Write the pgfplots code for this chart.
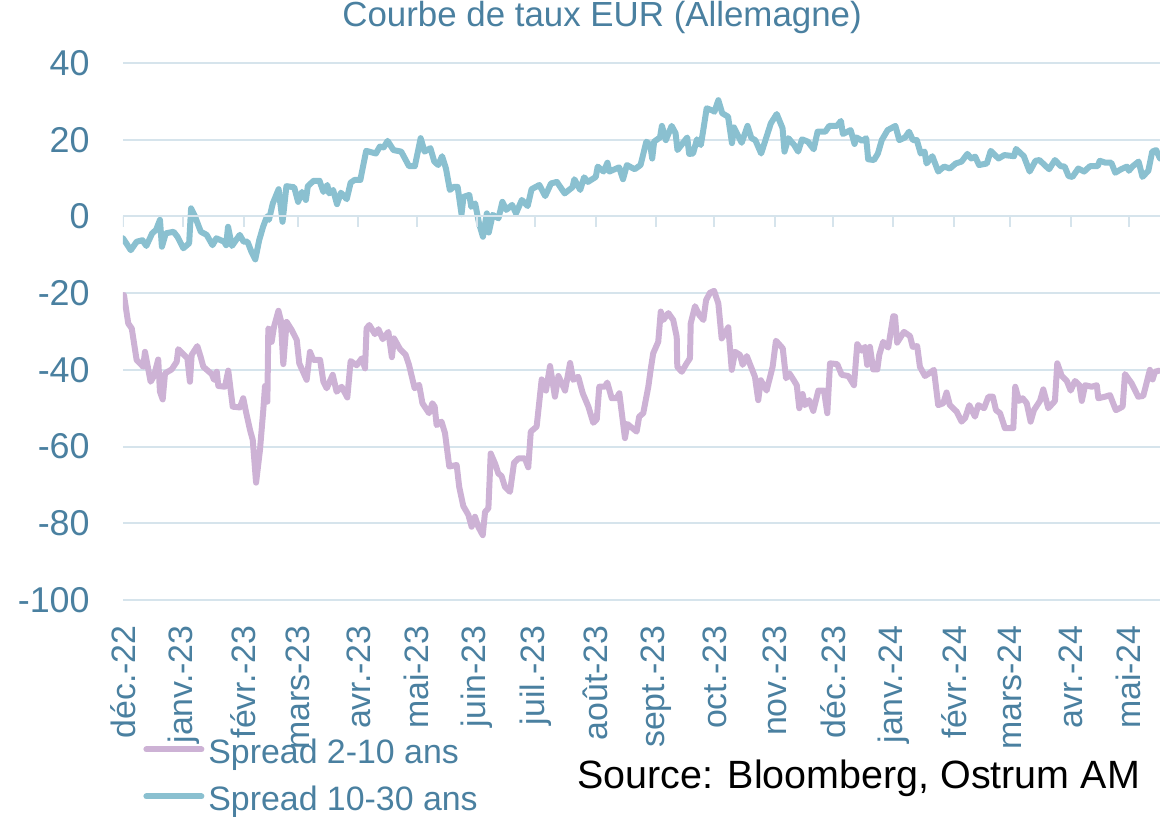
\documentclass[border=0pt]{standalone}
\usepackage{fontspec}
\setmainfont{Liberation Sans}
\usepackage{pgfplots}
\usepackage{pgfplotstable}
\pgfplotsset{compat=1.18}

\definecolor{txt}{HTML}{4A80A0}
\definecolor{tealline}{HTML}{8AC0D0}
\definecolor{lilac}{HTML}{CDB2D5}
\definecolor{gridc}{HTML}{D6E4EC}

% x = days since 1 Dec 2022, y = spread (bp)
\pgfplotstableread{
d v
0.5 -20.5
2.7 -27.9
4.5 -29.2
7.0 -37.4
10.4 -39.2
11.3 -35.3
14.2 -43.1
15.9 -41.6
18.1 -37.3
19.0 -45.7
20.4 -47.7
21.6 -40.9
25.0 -39.9
27.6 -37.9
28.4 -34.6
31.9 -36.4
33.1 -37.0
34.4 -43.1
35.3 -36.1
38.2 -33.8
39.9 -36.6
41.3 -39.2
45.6 -41.1
46.8 -42.6
48.2 -40.5
49.0 -44.2
52.4 -44.4
54.1 -40.2
56.4 -49.6
60.1 -49.8
61.8 -47.4
63.2 -50.9
65.3 -55.7
66.7 -58.3
68.4 -69.4
70.4 -60.9
72.1 -50.5
73.0 -44.2
74.2 -48.3
74.7 -29.2
75.6 -29.6
76.4 -32.7
77.6 -28.8
79.9 -24.6
81.1 -27.0
82.4 -38.5
84.1 -27.5
86.7 -29.6
89.3 -32.2
90.6 -38.3
94.4 -42.6
96.1 -35.3
97.8 -37.4
101.3 -37.4
103.0 -43.1
104.7 -44.8
107.8 -41.3
109.8 -45.7
112.4 -44.4
115.3 -47.2
117.0 -37.7
120.1 -38.8
122.7 -37.0
124.4 -39.6
125.2 -29.2
126.6 -28.3
129.5 -30.7
131.3 -29.4
133.5 -32.0
136.4 -30.1
138.2 -36.7
139.3 -31.8
142.4 -34.6
145.3 -36.1
147.0 -38.7
149.9 -44.8
152.2 -43.9
153.9 -48.7
157.3 -51.3
159.0 -48.7
160.2 -49.6
161.2 -54.4
163.7 -53.5
165.5 -56.5
167.7 -65.2
171.5 -64.8
172.8 -70.5
174.9 -75.5
177.5 -77.8
179.2 -80.9
180.9 -78.3
182.6 -80.9
184.9 -83.1
186.1 -77.0
187.8 -76.1
189.0 -61.8
191.2 -64.4
192.9 -67.0
194.6 -67.7
196.3 -70.5
198.9 -71.8
201.0 -64.2
203.2 -63.1
206.6 -63.1
208.3 -65.4
209.6 -56.1
212.6 -54.8
215.2 -42.5
217.4 -45.4
219.5 -39.0
222.0 -47.0
223.8 -41.6
227.2 -45.4
229.8 -38.2
231.4 -42.6
234.0 -41.8
236.3 -46.1
239.2 -49.6
241.7 -53.8
243.5 -52.9
244.8 -44.4
247.7 -44.4
248.9 -43.3
251.2 -47.4
253.7 -47.4
255.1 -46.1
258.0 -57.8
259.2 -54.1
264.0 -56.1
265.3 -52.2
267.4 -51.3
270.0 -44.4
271.2 -40.0
272.5 -35.7
275.1 -32.7
276.4 -24.8
277.7 -27.0
280.3 -25.2
282.8 -27.0
284.6 -31.4
284.9 -39.2
287.2 -40.5
289.7 -38.3
291.4 -37.0
291.8 -27.9
294.0 -23.4
296.2 -25.7
298.3 -27.0
299.7 -21.8
301.7 -19.9
303.8 -19.4
306.0 -22.7
307.7 -31.8
308.9 -30.9
311.1 -28.9
312.9 -40.0
314.6 -35.3
317.1 -36.1
318.5 -38.7
320.6 -36.4
323.1 -39.6
324.8 -41.8
326.5 -47.9
327.8 -42.7
330.8 -45.4
333.9 -39.2
335.6 -32.4
339.1 -34.4
340.8 -42.2
342.5 -40.9
344.5 -42.5
346.3 -44.0
347.6 -50.0
349.3 -46.3
350.5 -49.2
352.7 -47.9
354.8 -50.7
357.4 -45.4
360.3 -45.4
362.0 -51.3
363.4 -38.3
367.1 -38.5
369.4 -41.3
372.8 -41.6
375.7 -44.0
377.4 -33.3
379.7 -35.0
381.4 -34.0
382.5 -38.7
383.9 -34.0
385.6 -39.9
387.7 -39.9
388.7 -36.1
390.7 -32.7
393.3 -34.2
395.9 -26.0
396.8 -26.1
397.9 -32.9
401.4 -30.1
404.5 -31.2
405.9 -34.0
408.2 -33.8
409.6 -39.2
412.2 -41.6
414.4 -40.9
416.8 -40.0
419.0 -49.2
421.6 -48.7
423.3 -45.9
425.0 -49.2
428.5 -50.9
431.0 -53.5
432.8 -52.6
435.0 -49.2
437.9 -52.2
439.6 -49.2
442.6 -50.0
444.8 -47.0
447.1 -47.0
448.7 -50.5
450.8 -51.3
453.3 -55.2
457.6 -55.2
458.6 -44.4
460.6 -48.1
462.4 -47.4
464.5 -48.7
466.5 -53.5
468.2 -50.5
471.3 -48.1
473.0 -45.1
475.6 -50.0
479.0 -48.1
480.2 -38.3
482.5 -41.6
485.1 -42.9
487.1 -45.4
489.3 -42.9
491.6 -44.0
492.8 -48.1
494.5 -44.0
497.9 -44.4
500.5 -44.0
501.3 -47.4
504.7 -47.0
507.3 -46.6
510.3 -50.5
513.8 -49.6
515.0 -41.1
518.4 -43.5
521.8 -47.0
524.4 -46.8
527.8 -40.0
529.2 -42.5
530.4 -40.5
532.6 -40.2
}\spreadA

\pgfplotstableread{
d v
0 -5.7
4 -8.8
7 -6.6
10 -6.2
12 -7.7
15 -4.4
17 -3.5
19 -0.9
20 -7.9
22 -4.4
26 -4.0
28 -5.3
31 -8.3
34 -7.0
35 2.1
37 0
40 -4.0
43 -4.8
46 -7.5
48 -5.7
52 -6.6
53 -7.5
54 -2.7
56 -7.7
60 -4.8
62 -6.6
64 -6.6
66 -9.2
68 -11.2
70 -6.2
72 -2.7
74 0
75 -0.9
77 3.4
80 7.1
82 -1.4
84 7.9
88 7.6
90 3.8
92 6.4
94 4.3
95 7.9
98 9.3
101 9.3
103 6.4
105 8.2
106 6.0
108 6.9
110 3.2
112 6.2
115 4.5
117 8.8
119 9.5
122 9.5
123 12.1
125 17.1
130 16.4
132 18.2
134 18.0
136 19.7
139 17.3
143 16.9
147 13.1
150 13.1
153 20.4
155 16.9
158 17.8
160 14.3
162 13.4
164 15.7
166 12.5
168 6.9
170 7.7
172 7.7
174 0.6
175 5.1
178 5.6
179 2.5
181 3.4
183 -1.8
185 -5.3
187 0.8
188 -4.2
190 0.4
193 -0.5
195 3.8
197 1.7
200 3.0
202 0.8
205 4.3
208 2.7
210 7.1
214 8.2
217 5.3
220 8.6
223 9.0
227 6.0
231 7.6
232 9.7
235 6.9
237 10.2
239 9.0
243 10.3
244 13.0
247 11.7
249 14.0
250 11.7
255 12.8
257 9.7
259 13.4
263 12.3
266 13.4
269 19.5
271 18.6
272 15.1
273 19.5
276 20.6
277 23.6
279 19.9
282 23.6
284 21.7
285 17.3
290 20.6
291 16.3
293 16.4
295 20.1
297 18.6
298 21.7
300 28.2
303 27.6
304 27.3
306 30.3
308 26.9
311 26.0
313 19.1
314 23.2
318 19.2
321 23.6
323 20.4
325 19.9
328 16.4
333 24.3
336 26.7
339 23.0
340 16.9
342 20.4
345 18.6
347 16.9
349 20.1
352 19.5
355 17.5
357 22.1
361 22.1
363 23.6
367 23.6
369 24.9
370 21.5
374 22.5
376 18.9
377 20.6
380 19.7
382 20.4
383 14.9
386 14.7
388 16.4
390 19.9
393 22.5
397 23.6
399 19.9
402 20.6
404 22.1
406 19.9
408 19.9
410 16.4
412 16.9
413 13.8
416 15.7
419 11.7
422 13.0
425 12.5
428 13.8
431 14.3
434 16.3
436 15.1
438 15.6
440 13.4
444 13.8
446 17.1
450 15.1
453 16.0
458 15.7
459 17.6
463 15.7
466 11.7
469 14.5
471 14.7
476 12.3
479 14.7
482 13.1
484 13.0
486 10.5
488 10.3
491 12.5
494 11.7
497 13.1
501 13.1
502 14.5
505 14.0
508 14.0
510 11.4
513 12.3
516 13.0
517 11.9
519 13.1
522 14.3
524 10.3
527 11.9
529 16.9
531 17.3
533 15.1
}\spreadB

\begin{document}
\begin{tikzpicture}
\begin{axis}[
    at={(0,0)}, anchor=south west,
    scale only axis,
    width=518.5bp, height=268.5bp,
    xmin=0, xmax=533,
    ymin=-100, ymax=40,
    axis line style={draw=none},
    major tick length=0pt,
    ytick={-100,-80,...,40},
    ymajorgrids, xmajorgrids=false,
    grid style={gridc, line width=1bp},
    xtick={0,31,62,90,121,151,182,212,243,274,304,335,365,396,427,456,487,517},
    xticklabels={déc.-22,janv.-23,févr.-23,mars-23,avr.-23,mai-23,juin-23,juil.-23,août-23,sept.-23,oct.-23,nov.-23,déc.-23,janv.-24,févr.-24,mars-24,avr.-24,mai-24},
    xticklabel style={rotate=90, anchor=east, inner sep=0pt,
        font=\fontsize{17}{17}\selectfont, text=txt},
    xticklabel shift=12.5bp,
    yticklabel style={anchor=east, inner sep=0pt,
        font=\fontsize{18}{18}\selectfont, text=txt},
    yticklabel shift=16.5bp,
    /pgf/number format/assume math mode=true,
    title={Courbe de taux EUR (Allemagne)},
    title style={at={(0.462,1)}, anchor=base, yshift=12.5bp,
        font=\fontsize{17.5}{17.5}\selectfont, text=txt},
    legend style={at={(0,0)}, anchor=north west, xshift=10bp, yshift=-69.5bp,
        draw=none, fill=none, inner sep=0pt, row sep=7.5bp,
        font=\fontsize{17}{17}\selectfont, text=txt,
        nodes={inner sep=0pt, text height=12bp, text depth=4bp}},
    legend cell align=left,
    legend image code/.code={\draw[#1] (0bp,0.3em) -- (27.5bp,0.3em);},
    every axis plot/.append style={line width=3bp, line join=round, line cap=round},
]
\addplot[lilac] table[x=d, y=v] {\spreadA};
\addlegendentry{\hspace{2bp}Spread 2-10 ans}
\addplot[tealline] table[x=d, y=v] {\spreadB};
\addlegendentry{\hspace{2bp}Spread 10-30 ans}

% x axis at zero with short downward ticks (2.87 units = 5.5bp)
\draw[gridc, line width=1bp] (axis cs:0,0) -- (axis cs:533,0);
\pgfplotsinvokeforeach{0,31,62,90,121,151,182,212,243,274,304,335,365,396,427,456,487,517}{
  \draw[gridc, line width=1bp] (axis cs:#1,0) -- (axis cs:#1,-2.87);
}
\end{axis}
\node[anchor=base east, font=\fontsize{19.8}{19.8}\selectfont] at (512bp,-94bp) {Source: Bloomberg, Ostrum AM};
\pgfresetboundingbox
\path[use as bounding box] (-61.5bp,-108.5bp) rectangle (518.5bp,300bp);
\end{tikzpicture}
\end{document}
